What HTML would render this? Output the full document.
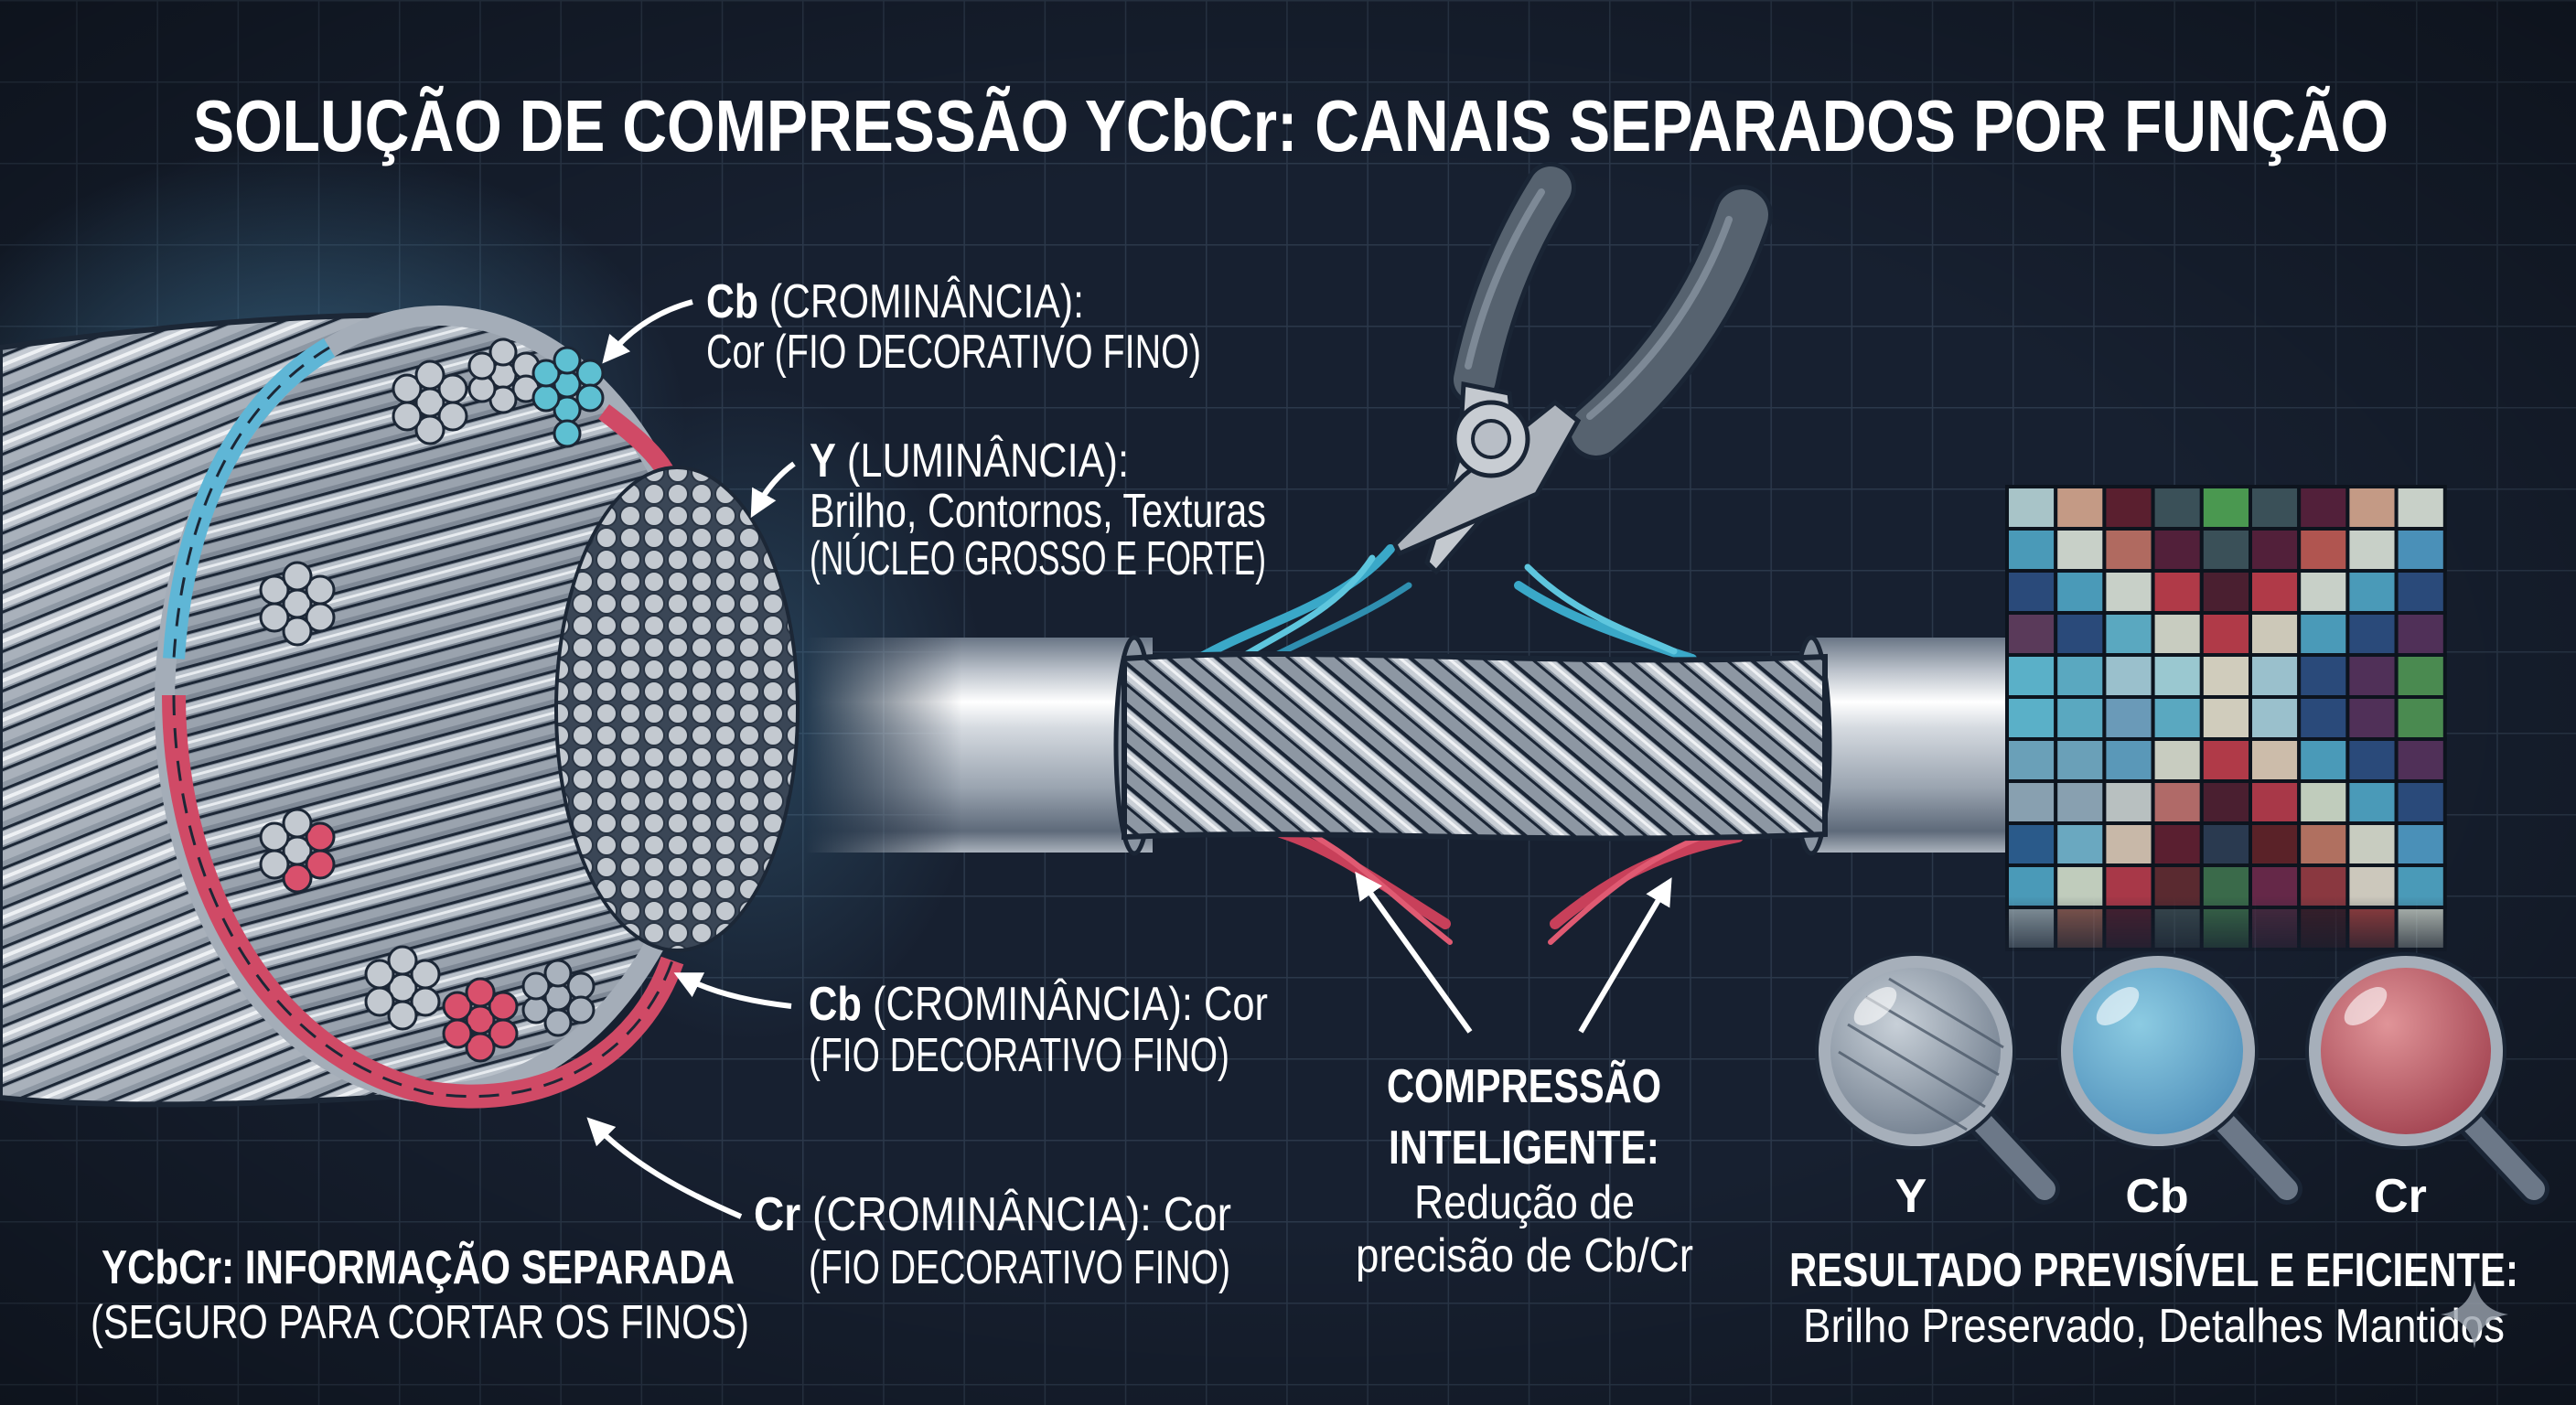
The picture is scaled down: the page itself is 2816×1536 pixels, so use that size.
<!DOCTYPE html>
<html><head><meta charset="utf-8"><style>
html,body{margin:0;padding:0;background:#172030;}
svg{display:block}
text{font-family:"Liberation Sans Narrow","Liberation Sans",sans-serif;fill:#fff}
</style></head><body>
<svg width="2816" height="1536" viewBox="0 0 2816 1536" xmlns="http://www.w3.org/2000/svg">
<defs>
<pattern id="grid" width="88.2" height="89" patternUnits="userSpaceOnUse" x="-5" y="0">
<rect width="88.2" height="89" fill="none"/>
<path d="M0 0V89M0 0H88.2" stroke="#2b384a" stroke-width="3" fill="none"/>
</pattern>
<radialGradient id="vig" cx="50%" cy="50%" r="75%">
<stop offset="0.5" stop-color="#000" stop-opacity="0"/><stop offset="1" stop-color="#000" stop-opacity="0.45"/>
</radialGradient>
<radialGradient id="glow" cx="0.5" cy="0.5" r="0.5">
<stop offset="0" stop-color="#4a8ab0" stop-opacity="0.55"/><stop offset="1" stop-color="#4a8ab0" stop-opacity="0"/>
</radialGradient>
<pattern id="strands" width="40" height="40" patternUnits="userSpaceOnUse" patternTransform="rotate(-22)">
<rect width="40" height="40" fill="#8e98a4"/>
<rect y="4" width="40" height="14" fill="#c4cad2"/>
<rect y="9" width="40" height="4" fill="#eef1f4"/>
<rect y="24" width="40" height="10" fill="#a9b1bb"/>
<rect y="0" width="40" height="3" fill="#1c2736"/>
<rect y="20" width="40" height="3" fill="#1c2736"/>
</pattern>
<pattern id="strands2" width="36" height="36" patternUnits="userSpaceOnUse" patternTransform="rotate(-15)">
<rect width="36" height="36" fill="#7f8996"/>
<rect y="4" width="36" height="12" fill="#b8c0c9"/>
<rect y="8" width="36" height="3" fill="#e8ecf0"/>
<rect y="22" width="36" height="9" fill="#9aa3ae"/>
<rect y="0" width="36" height="3" fill="#1c2736"/>
<rect y="18" width="36" height="3" fill="#1c2736"/>
</pattern>
<pattern id="twist" width="34" height="34" patternUnits="userSpaceOnUse" patternTransform="rotate(40)">
<rect width="34" height="34" fill="#8d97a3"/>
<rect y="5" width="34" height="11" fill="#c9cfd6"/>
<rect y="8" width="34" height="3" fill="#f0f2f5"/>
<rect y="0" width="34" height="4" fill="#1a2535"/>
<rect y="18" width="34" height="3" fill="#1a2535"/>
</pattern>
<pattern id="dots" width="26" height="24" patternUnits="userSpaceOnUse">
<rect width="26" height="24" fill="#3a4656"/>
<circle cx="13" cy="12" r="11" fill="#c3c9d0" stroke="#2a3544" stroke-width="2"/>
</pattern>
<linearGradient id="tube" x1="0" y1="0" x2="0" y2="1">
<stop offset="0" stop-color="#6a7686"/><stop offset="0.15" stop-color="#b9c0c9"/><stop offset="0.3" stop-color="#ffffff"/><stop offset="0.42" stop-color="#d5dae0"/><stop offset="0.7" stop-color="#9aa4b0"/><stop offset="0.9" stop-color="#5e6a7a"/><stop offset="1" stop-color="#aab2bc"/>
</linearGradient>
<linearGradient id="fadeL" x1="0" x2="1"><stop offset="0" stop-color="#fff" stop-opacity="0"/><stop offset="0.45" stop-color="#fff" stop-opacity="1"/></linearGradient>
<linearGradient id="fadeR" x1="0" x2="1"><stop offset="0.55" stop-color="#fff" stop-opacity="1"/><stop offset="1" stop-color="#fff" stop-opacity="0"/></linearGradient>
<mask id="mL"><rect x="880" y="680" width="380" height="280" fill="url(#fadeL)"/></mask>
<mask id="mR"><rect x="1975" y="680" width="400" height="280" fill="url(#fadeR)"/></mask>
<linearGradient id="fadeDown" x1="0" y1="0" x2="0" y2="1"><stop offset="0" stop-color="#fff"/><stop offset="1" stop-color="#fff" stop-opacity="0"/></linearGradient>
<mask id="mG"><rect x="2180" y="520" width="510" height="460" fill="#fff"/><rect x="2180" y="980" width="510" height="80" fill="url(#fadeDown)"/></mask>
<clipPath id="core"><ellipse cx="740" cy="775" rx="130" ry="262"/></clipPath>
<radialGradient id="lensY" cx="0.4" cy="0.35" r="0.7"><stop offset="0" stop-color="#c8d0d8"/><stop offset="1" stop-color="#6f7c8c"/></radialGradient>
<radialGradient id="lensB" cx="0.4" cy="0.35" r="0.7"><stop offset="0" stop-color="#8ccbe2"/><stop offset="1" stop-color="#4f8fba"/></radialGradient>
<radialGradient id="lensR" cx="0.4" cy="0.35" r="0.7"><stop offset="0" stop-color="#e09498"/><stop offset="1" stop-color="#a0404e"/></radialGradient>
<marker id="ah" viewBox="0 0 10 10" refX="5" refY="5" markerWidth="5" markerHeight="5" orient="auto-start-reverse"><path d="M0 0L10 5L0 10z" fill="#fff"/></marker>
</defs>

<rect width="2816" height="1536" fill="#172030"/>
<rect width="2816" height="1536" fill="url(#grid)"/>
<rect width="2816" height="1536" fill="url(#vig)"/>
<ellipse cx="330" cy="460" rx="420" ry="300" fill="url(#glow)"/>
<ellipse cx="820" cy="780" rx="260" ry="360" fill="url(#glow)" opacity="0.6"/>

<text x="1411" y="165" font-size="80" font-weight="bold" text-anchor="middle" textLength="2400" lengthAdjust="spacingAndGlyphs">SOLUÇÃO DE COMPRESSÃO YCbCr: CANAIS SEPARADOS POR FUNÇÃO</text>

<path d="M0 380 C150 360 330 340 500 345 L560 1190 C360 1205 150 1215 0 1200 Z" fill="url(#strands)" stroke="#1c2736" stroke-width="6"/>
<ellipse cx="480" cy="770" rx="300" ry="425" fill="url(#strands2)" stroke="#1c2736" stroke-width="8"/>
<ellipse cx="480" cy="770" rx="300" ry="425" fill="none" stroke="#a4adb8" stroke-width="22"/>
<path d="M360 380 C260 440 200 560 190 720" fill="none" stroke="#5fb6d6" stroke-width="24"/>
<path d="M360 380 C260 440 200 560 190 720" fill="none" stroke="#1c2736" stroke-width="3" stroke-dasharray="20 14"/>
<path d="M190 760 C190 950 280 1150 470 1195 C600 1215 700 1150 735 1050" fill="none" stroke="#d04a66" stroke-width="26"/>
<path d="M190 760 C190 950 280 1150 470 1195 C600 1215 700 1150 735 1050" fill="none" stroke="#1c2736" stroke-width="3" stroke-dasharray="22 14"/>
<path d="M660 450 C700 480 720 500 730 520" fill="none" stroke="#d04a66" stroke-width="20"/>
<ellipse cx="740" cy="775" rx="134" ry="266" fill="#1c2736"/>
<rect x="600" y="500" width="280" height="560" fill="url(#dots)" clip-path="url(#core)"/>
<g stroke="#1c2736" stroke-width="3">
<g fill="#c3c9d0"><circle cx="470" cy="440" r="15"/><circle cx="495" cy="425" r="15"/><circle cx="495" cy="455" r="15"/><circle cx="470" cy="470" r="15"/><circle cx="445" cy="455" r="15"/><circle cx="445" cy="425" r="15"/><circle cx="470" cy="410" r="15"/></g>
<g fill="#c3c9d0"><circle cx="550" cy="410" r="14"/><circle cx="575" cy="400" r="14"/><circle cx="575" cy="425" r="14"/><circle cx="550" cy="437" r="14"/><circle cx="527" cy="425" r="14"/><circle cx="527" cy="400" r="14"/><circle cx="550" cy="385" r="14"/></g>
<g fill="#5ec0d2"><circle cx="620" cy="420" r="14"/><circle cx="645" cy="408" r="14"/><circle cx="645" cy="435" r="14"/><circle cx="620" cy="448" r="14"/><circle cx="597" cy="435" r="14"/><circle cx="597" cy="408" r="14"/><circle cx="620" cy="394" r="14"/><circle cx="620" cy="474" r="14"/></g>
<g fill="#c3c9d0"><circle cx="325" cy="660" r="15"/><circle cx="350" cy="645" r="15"/><circle cx="350" cy="675" r="15"/><circle cx="325" cy="690" r="15"/><circle cx="300" cy="675" r="15"/><circle cx="300" cy="645" r="15"/><circle cx="325" cy="630" r="15"/></g>
<g><circle cx="325" cy="930" r="15" fill="#c3c9d0"/><circle cx="350" cy="915" r="15" fill="#d9506c"/><circle cx="350" cy="945" r="15" fill="#d9506c"/><circle cx="325" cy="960" r="15" fill="#d9506c"/><circle cx="300" cy="945" r="15" fill="#c3c9d0"/><circle cx="300" cy="915" r="15" fill="#c3c9d0"/><circle cx="325" cy="900" r="15" fill="#c3c9d0"/></g>
<g fill="#c3c9d0"><circle cx="440" cy="1080" r="15"/><circle cx="465" cy="1065" r="15"/><circle cx="465" cy="1095" r="15"/><circle cx="440" cy="1110" r="15"/><circle cx="415" cy="1095" r="15"/><circle cx="415" cy="1065" r="15"/><circle cx="440" cy="1050" r="15"/></g>
<g fill="#d9506c"><circle cx="525" cy="1115" r="15"/><circle cx="550" cy="1100" r="15"/><circle cx="550" cy="1130" r="15"/><circle cx="525" cy="1145" r="15"/><circle cx="500" cy="1130" r="15"/><circle cx="500" cy="1100" r="15"/><circle cx="525" cy="1085" r="15"/></g>
<g fill="#a9b2bd"><circle cx="610" cy="1090" r="14"/><circle cx="635" cy="1078" r="14"/><circle cx="635" cy="1104" r="14"/><circle cx="610" cy="1118" r="14"/><circle cx="586" cy="1104" r="14"/><circle cx="586" cy="1078" r="14"/><circle cx="610" cy="1064" r="14"/></g>
</g>

<g mask="url(#mL)"><rect x="880" y="697" width="380" height="235" fill="url(#tube)"/></g>
<g mask="url(#mR)"><rect x="1975" y="697" width="400" height="235" fill="url(#tube)"/></g>
<ellipse cx="1240" cy="815" rx="20" ry="118" fill="#8a95a2" stroke="#1a2535" stroke-width="5"/>
<ellipse cx="1980" cy="815" rx="20" ry="118" fill="#8a95a2" stroke="#1a2535" stroke-width="5"/>
<g fill="none" stroke-linecap="round">
<path d="M1310 720 C1380 680 1470 660 1520 600" stroke="#3aa8c8" stroke-width="10"/>
<path d="M1330 735 C1400 690 1460 670 1500 610" stroke="#5ec6de" stroke-width="7"/>
<path d="M1350 740 C1420 700 1480 680 1540 640" stroke="#2f8fb0" stroke-width="7"/>
<path d="M1660 640 C1720 680 1790 700 1850 720" stroke="#3aa8c8" stroke-width="10"/>
<path d="M1670 620 C1720 670 1780 690 1830 712" stroke="#5ec6de" stroke-width="7"/>
<path d="M1400 910 C1460 930 1500 960 1580 1010" stroke="#c8405a" stroke-width="12"/>
<path d="M1420 905 C1480 935 1510 970 1585 1030" stroke="#e05a72" stroke-width="6"/>
<path d="M1900 915 C1820 930 1760 960 1700 1010" stroke="#c8405a" stroke-width="12"/>
<path d="M1880 908 C1810 930 1760 970 1695 1030" stroke="#e05a72" stroke-width="6"/>
</g>
<path d="M1229 720 C1450 705 1700 730 1995 718 L1995 912 C1700 925 1450 905 1229 915 Z" fill="url(#twist)" stroke="#1a2535" stroke-width="6"/>

<!-- pliers -->
<g fill="none" stroke-linecap="round">
<path d="M1612 415 Q1635 300 1695 205" stroke="#1a2535" stroke-width="56"/>
<path d="M1612 415 Q1635 300 1695 205" stroke="#56626f" stroke-width="46"/>
<path d="M1605 400 Q1628 300 1685 210" stroke="#7d8996" stroke-width="8"/>
<path d="M1745 470 Q1860 370 1905 235" stroke="#1a2535" stroke-width="66"/>
<path d="M1745 470 Q1860 370 1905 235" stroke="#56626f" stroke-width="56"/>
<path d="M1738 455 Q1845 365 1890 240" stroke="#7d8996" stroke-width="8"/>
</g>
<path d="M1600 420 L1650 430 L1660 520 L1570 625 L1560 615 L1595 500 Z" fill="#c4c9cf" stroke="#1a2535" stroke-width="5"/>
<path d="M1700 440 L1725 460 L1680 540 L1530 605 L1525 595 L1600 520 Z" fill="#b0b6be" stroke="#1a2535" stroke-width="5"/>
<circle cx="1630" cy="480" r="40" fill="#c8cdd3" stroke="#1a2535" stroke-width="5"/>
<circle cx="1630" cy="480" r="20" fill="#b8bec6" stroke="#1a2535" stroke-width="4"/>

<g mask="url(#mG)" stroke="#0d141e" stroke-width="4">
<g id="cells"></g>
</g>

<g>
<line x1="2165" y1="1225" x2="2235" y2="1300" stroke="#1a2535" stroke-width="34" stroke-linecap="round"/>
<line x1="2165" y1="1225" x2="2235" y2="1300" stroke="#6c7888" stroke-width="24" stroke-linecap="round"/>
<ellipse cx="2094" cy="1149" rx="100" ry="98" fill="url(#lensY)" stroke="#a6afba" stroke-width="14"/>
<ellipse cx="2094" cy="1149" rx="108" ry="106" fill="none" stroke="#1a2535" stroke-width="4"/>
<g stroke="#4d5a6a" stroke-width="3" opacity="0.8"><line x1="2020" y1="1120" x2="2170" y2="1210"/><line x1="2010" y1="1150" x2="2150" y2="1235"/><line x1="2040" y1="1090" x2="2185" y2="1175"/><line x1="2065" y1="1070" x2="2190" y2="1145"/></g>
<line x1="2430" y1="1225" x2="2500" y2="1300" stroke="#1a2535" stroke-width="34" stroke-linecap="round"/>
<line x1="2430" y1="1225" x2="2500" y2="1300" stroke="#6c7888" stroke-width="24" stroke-linecap="round"/>
<ellipse cx="2359" cy="1149" rx="100" ry="98" fill="url(#lensB)" stroke="#a6afba" stroke-width="14"/>
<ellipse cx="2359" cy="1149" rx="108" ry="106" fill="none" stroke="#1a2535" stroke-width="4"/>
<line x1="2700" y1="1225" x2="2770" y2="1300" stroke="#1a2535" stroke-width="34" stroke-linecap="round"/>
<line x1="2700" y1="1225" x2="2770" y2="1300" stroke="#6c7888" stroke-width="24" stroke-linecap="round"/>
<ellipse cx="2630" cy="1149" rx="100" ry="98" fill="url(#lensR)" stroke="#a6afba" stroke-width="14"/>
<ellipse cx="2630" cy="1149" rx="108" ry="106" fill="none" stroke="#1a2535" stroke-width="4"/>
<ellipse cx="2050" cy="1100" rx="28" ry="14" fill="#fff" opacity="0.6" transform="rotate(-40 2050 1100)"/>
<ellipse cx="2315" cy="1100" rx="28" ry="14" fill="#fff" opacity="0.6" transform="rotate(-40 2315 1100)"/>
<ellipse cx="2586" cy="1100" rx="28" ry="14" fill="#fff" opacity="0.6" transform="rotate(-40 2586 1100)"/>
</g>

<g fill="none" stroke="#fff" stroke-width="6" marker-end="url(#ah)">
<path d="M757 330 C720 340 690 360 668 386"/>
<path d="M868 507 C850 520 838 535 828 553"/>
<path d="M865 1100 C820 1095 780 1085 750 1070"/>
<path d="M810 1330 C740 1300 690 1270 652 1232"/>
<path d="M1607 1128 L1490 965"/>
<path d="M1728 1128 L1820 972"/>
</g>

<g font-size="52">
<text x="772" y="347" textLength="413" lengthAdjust="spacingAndGlyphs"><tspan font-weight="bold">Cb</tspan> (CROMINÂNCIA):</text>
<text x="772" y="402" textLength="541" lengthAdjust="spacingAndGlyphs">Cor (FIO DECORATIVO FINO)</text>
<text x="885" y="521" textLength="349" lengthAdjust="spacingAndGlyphs"><tspan font-weight="bold">Y</tspan> (LUMINÂNCIA):</text>
<text x="885" y="576" textLength="499" lengthAdjust="spacingAndGlyphs">Brilho, Contornos, Texturas</text>
<text x="885" y="628" textLength="499" lengthAdjust="spacingAndGlyphs">(NÚCLEO GROSSO E FORTE)</text>
<text x="884" y="1115" textLength="502" lengthAdjust="spacingAndGlyphs"><tspan font-weight="bold">Cb</tspan> (CROMINÂNCIA): Cor</text>
<text x="884" y="1171" textLength="460" lengthAdjust="spacingAndGlyphs">(FIO DECORATIVO FINO)</text>
<text x="824" y="1345" textLength="522" lengthAdjust="spacingAndGlyphs"><tspan font-weight="bold">Cr</tspan> (CROMINÂNCIA): Cor</text>
<text x="884" y="1403" textLength="461" lengthAdjust="spacingAndGlyphs">(FIO DECORATIVO FINO)</text>
<text x="111" y="1403" font-weight="bold" textLength="692" lengthAdjust="spacingAndGlyphs">YCbCr: INFORMAÇÃO SEPARADA</text>
<text x="99" y="1463" textLength="720" lengthAdjust="spacingAndGlyphs">(SEGURO PARA CORTAR OS FINOS)</text>
<text x="1516" y="1205" font-weight="bold" textLength="300" lengthAdjust="spacingAndGlyphs">COMPRESSÃO</text>
<text x="1518" y="1272" font-weight="bold" textLength="296" lengthAdjust="spacingAndGlyphs">INTELIGENTE:</text>
<text x="1546" y="1332" textLength="241" lengthAdjust="spacingAndGlyphs">Redução de</text>
<text x="1482" y="1390" textLength="369" lengthAdjust="spacingAndGlyphs">precisão de Cb/Cr</text>
<text x="2089" y="1325" font-weight="bold" text-anchor="middle">Y</text>
<text x="2358" y="1325" font-weight="bold" text-anchor="middle">Cb</text>
<text x="2624" y="1325" font-weight="bold" text-anchor="middle">Cr</text>
<text x="1956" y="1406" font-weight="bold" textLength="797" lengthAdjust="spacingAndGlyphs">RESULTADO PREVISÍVEL E EFICIENTE:</text>
<text x="1971" y="1467" textLength="767" lengthAdjust="spacingAndGlyphs">Brilho Preservado, Detalhes Mantidos</text>
</g>
<path d="M2705 1400 Q2710 1432 2742 1437 Q2710 1442 2705 1474 Q2700 1442 2668 1437 Q2700 1432 2705 1400Z" fill="#9aa3ae" opacity="0.8"/>
</svg>
<script>
(function(){
var rows=[
"a8c4c8 c49a85 5a1f2f 3a5058 4a9850 3a5058 52203a c49a85 c8d0c8",
"4a9ab8 c8d0c8 b06a60 52203a 3a5058 52203a b05550 c8d0c8 4a90b8",
"2a4a7a 4a9ab8 c8d0c8 b03a48 4a1f30 b03a48 c8d0c8 4a9ab8 2a4a7a",
"5a3a5a 2a4a7a 5aa8c0 c8ccc0 b03a48 ccc8b8 4a9ab8 2a4a7a 503058",
"5ab0c8 5aa8c0 9ac0cc 9ac8d0 d0ccbc 9ac0cc 2a4a7a 503058 4a8a50",
"5ab0c8 5aa8c0 6a9ab8 5aa8c0 d0ccbc 9ac0cc 2a4a7a 503058 4a8a50",
"6aa0b8 6aa0b8 5a98b8 c8ccc0 b03a48 ccbcaa 4a9ab8 2a4a7a 503058",
"88a0b0 88a0b0 b8c0c0 b06a68 4a1f30 a83848 c0ccbc 4a9ab8 2a4a7a",
"2a5a8a 6aa8c0 c8b8a8 5a1f30 2a3a50 5a2228 b07060 c8ccc0 4a90b8",
"4a9ab8 c0ccbc a83848 5a2a30 3a6a4a 652848 8a3840 ccc8bc 4a9ab8",
"90a0a8 8a5a50 4a2030 3a4a50 3a6a4a 4a2a40 3a1f2a 9a4040 c0c8c0"];
var g=document.getElementById('cells'),ns="http://www.w3.org/2000/svg";
for(var r=0;r<rows.length;r++){var c=rows[r].split(' ');for(var i=0;i<9;i++){
var e=document.createElementNS(ns,'rect');e.setAttribute('x',2194+i*53.2);e.setAttribute('y',532+r*46);
e.setAttribute('width',53.2);e.setAttribute('height',46);e.setAttribute('fill','#'+c[i]);g.appendChild(e);}}
})();
</script>
</body></html>
